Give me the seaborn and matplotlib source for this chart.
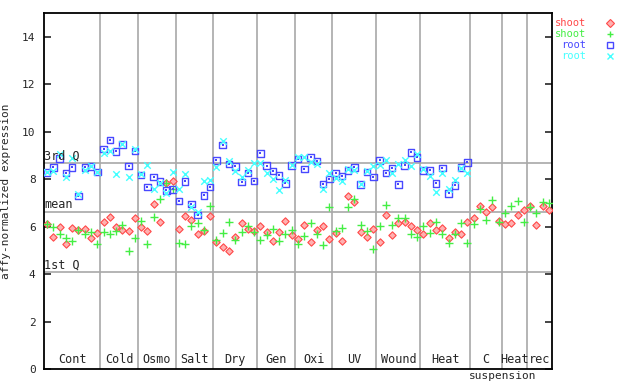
import numpy as np
import pandas as pd
import matplotlib
matplotlib.use("Agg")
import matplotlib.pyplot as plt
import seaborn as sns

groups = ['Cont', 'Cold', 'Osmo', 'Salt', 'Dry', 'Gen', 'Oxi', 'UV', 'Wound', 'Heat', 'C', 'Heat', 'rec']
group_sizes = [9, 6, 6, 6, 7, 6, 6, 7, 7, 8, 5, 4, 4]

shoot_red = [6.10, 5.55, 6.00, 5.25, 5.93, 5.84, 5.89, 5.51, 5.75,
             6.18, 6.39, 5.97, 5.87, 5.80, 6.35,
             5.97, 5.80, 6.95, 6.18, 7.82, 7.94,
             5.89, 6.45, 6.28, 5.68, 5.82, 6.45,
             5.34, 5.13, 4.97, 5.55, 6.14, 5.89, 5.83,
             6.03, 5.76, 5.38, 5.76, 6.24, 5.63,
             5.49, 6.06, 5.35, 5.86, 6.01, 5.47,
             5.74, 5.38, 7.29, 7.02, 5.76, 5.55, 5.89,
             5.34, 6.49, 5.63, 6.14, 6.18, 6.01, 5.84,
             5.68, 6.14, 5.84, 5.93, 5.51, 5.76, 5.69, 6.18,
             6.35, 6.86, 6.60, 6.81, 6.22,
             6.10, 6.14, 6.49, 6.70,
             6.87, 6.05, 6.86, 6.69]

shoot_green = [6.10, 6.00, 5.69, 5.51, 5.38, 5.86, 5.68, 5.77, 5.25,
               5.76, 5.68, 5.83, 6.05, 4.97, 5.51,
               6.25, 5.25, 6.39, 7.15, 7.82, 7.57,
               5.32, 5.25, 6.01, 6.14, 5.86, 6.87,
               5.44, 5.72, 6.18, 5.44, 5.76, 6.01, 5.76,
               5.42, 5.63, 5.90, 5.38, 5.68, 5.86,
               5.25, 5.59, 6.14, 5.69, 5.21, 6.83,
               5.80, 5.93, 6.83, 7.18, 6.05, 5.80, 5.04,
               6.01, 6.89, 6.05, 6.35, 6.35, 5.68, 5.55,
               6.01, 5.72, 6.18, 5.68, 5.30, 5.68, 6.14, 5.30,
               6.10, 6.73, 6.27, 7.11, 6.18,
               6.56, 6.86, 7.07, 6.18,
               6.81, 6.56, 7.02, 6.98]

root_blue = [8.27, 8.50, 8.88, 8.25, 8.50, 7.29, 8.50, 8.53, 8.30,
             9.26, 9.64, 9.17, 9.45, 8.55, 9.19,
             8.17, 7.66, 8.08, 7.89, 7.53, 7.57,
             7.07, 7.91, 6.95, 6.48, 7.32, 7.66,
             8.79, 9.43, 8.63, 8.54, 7.88, 8.25, 7.92,
             9.09, 8.57, 8.34, 8.16, 7.82, 8.58,
             8.85, 8.42, 8.92, 8.76, 7.79, 8.00,
             8.25, 8.13, 8.37, 8.50, 7.78, 8.30, 8.08,
             8.79, 8.25, 8.46, 7.78, 8.58, 9.13, 8.92,
             8.37, 8.37, 7.82, 8.46, 7.40, 7.74, 8.48, 8.71] + [np.nan] * 13

root_cyan = [8.30, 8.36, 9.06, 8.08, 8.90, 7.36, 8.40, 8.55, 8.30,
             9.09, 9.20, 8.22, 9.47, 8.08, 9.26,
             8.22, 8.60, 7.57, 7.82, 7.40, 8.31,
             7.57, 8.21, 6.82, 6.62, 7.91, 7.96,
             8.50, 9.60, 8.77, 8.36, 8.08, 8.39, 8.70,
             8.70, 8.27, 8.00, 7.54, 7.96, 8.58,
             8.92, 8.93, 8.72, 8.63, 7.57, 8.26,
             8.04, 7.92, 8.44, 8.37, 7.78, 8.36, 8.55,
             8.58, 8.79, 8.27, 8.63, 8.79, 8.55, 9.06,
             8.44, 8.15, 7.45, 8.27, 7.57, 7.95, 8.46, 8.25] + [np.nan] * 13

q_values = [8.67, 6.60, 4.07]
q_labels = ['3rd Q', 'mean', '1st Q']

n = sum(group_sizes)
x = np.arange(n)
df = pd.DataFrame({'x': x, 'red': shoot_red, 'green': shoot_green,
                   'blue': root_blue, 'cyan': root_cyan})

sns.set_style("white")
plt.rcParams['font.family'] = ['DejaVu Sans Mono']

fig = plt.figure(figsize=(6.4, 3.84), dpi=100)
ax = fig.add_axes([44 / 640, 15 / 384, 508 / 640, 356 / 384])

sns.scatterplot(data=df, x='x', y='red', ax=ax, marker='D', s=14,
                facecolor='#ffb0b0', edgecolor='#ff4848', linewidth=0.8, legend=False, zorder=3)
sns.scatterplot(data=df, x='x', y='green', ax=ax, marker='+', s=30,
                color='#44ee44', linewidth=1.0, legend=False, zorder=3)
sns.scatterplot(data=df, x='x', y='blue', ax=ax, marker='s', s=22,
                facecolor='none', edgecolor='#4848ff', linewidth=1.0, legend=False, zorder=3)
sns.scatterplot(data=df, x='x', y='blue', ax=ax, marker='s', s=1.5,
                color='#4848ff', linewidth=0, legend=False, zorder=3)
sns.scatterplot(data=df, x='x', y='cyan', ax=ax, marker='x', s=22,
                color='#44ffff', linewidth=1.0, legend=False, zorder=3)

ax.set_xlim(-0.5, n - 0.5)
ax.set_ylim(0, 15)

# group separators and labels
edges = np.cumsum([0] + group_sizes) - 0.5
for e in edges[1:-1]:
    ax.axvline(e, color='#a8a8a8', lw=1.2, zorder=1)
for name, a, b in zip(groups, edges[:-1], edges[1:]):
    ax.text((a + b) / 2, 0.12, name, ha='center', va='bottom', fontsize=8.5)
ax.text(edges[10] - 0.3, -0.08, 'suspension', ha='left', va='top', fontsize=8)

for v, lab in zip(q_values, q_labels):
    ax.axhline(v, color='#a8a8a8', lw=1.2, zorder=1)
    ax.text(-0.45, v + 0.05, lab, ha='left', va='bottom', fontsize=8.5)

ax.set_yticks(range(0, 15, 2))
ax.set_xticks([])
ax.tick_params(axis='y', direction='in', length=5, width=1.2, labelsize=8,
               right=True, left=True, labelright=False, pad=6)
for sp in ax.spines.values():
    sp.set_color('black')
    sp.set_linewidth(1.3)
ax.set_xlabel('')
ax.set_ylabel('affy-normalized expression', fontsize=8, labelpad=8)

# legend drawn on the right
leg_items = [('shoot', '#ff4848', 'D'), ('shoot', '#44ee44', '+'),
             ('root', '#4848ff', 's'), ('root', '#44ffff', 'x')]
for i, (lab, col, mk) in enumerate(leg_items):
    yf = 1 - (23.3 + 11 * i) / 384
    fig.text(586 / 640, yf, lab, color=col, ha='right', va='center', fontsize=7.5)
    if mk == 'D':
        ax.plot([609.5 / 640], [yf], marker=mk, ms=3.7, mfc='#ffb0b0', mec=col, mew=0.8,
                transform=fig.transFigure, clip_on=False)
    elif mk == 's':
        ax.plot([609.5 / 640], [yf], marker=mk, ms=4.7, mfc='none', mec=col, mew=1.0,
                transform=fig.transFigure, clip_on=False)
    else:
        ax.plot([609.5 / 640], [yf], marker=mk, ms=5, color=col, mew=1.0,
                transform=fig.transFigure, clip_on=False)

fig.savefig('out.png', dpi=100)
